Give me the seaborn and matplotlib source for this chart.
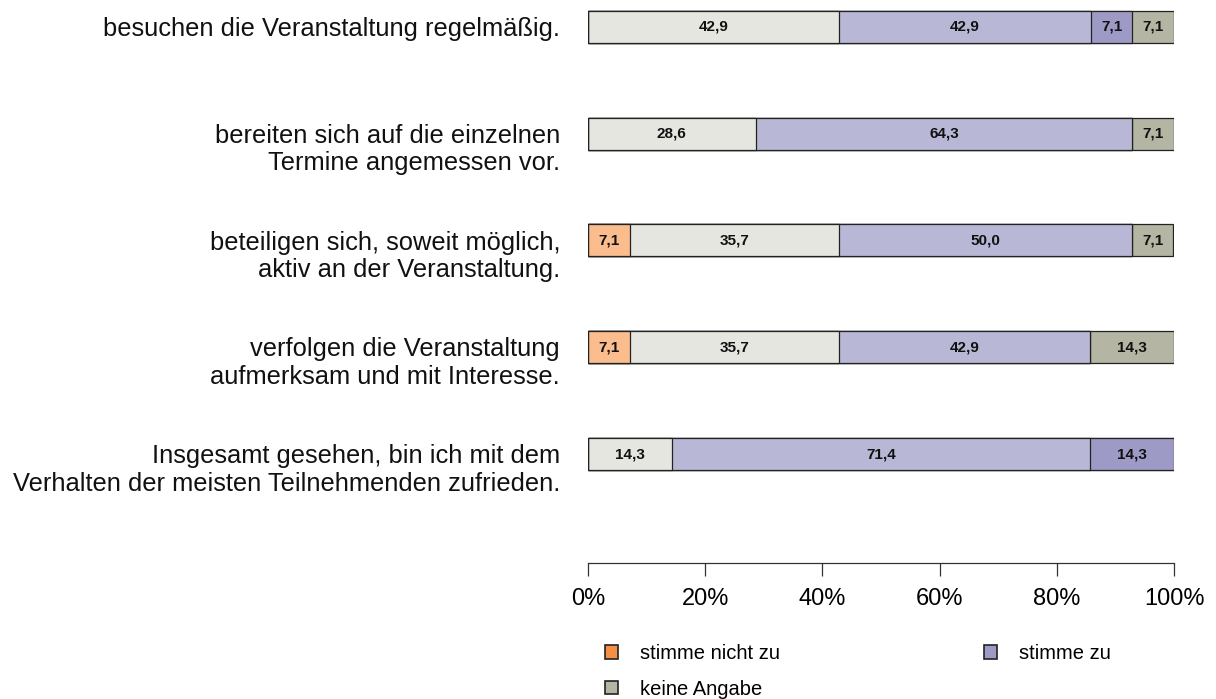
import numpy as np
import pandas as pd
import matplotlib
matplotlib.use("Agg")
import matplotlib.pyplot as plt
from matplotlib.patches import Patch
import seaborn as sns

# Aussagen (Zeilen von oben nach unten)
items = [
    "besuchen die Veranstaltung regelmäßig.",
    "bereiten sich auf die einzelnen\nTermine angemessen vor.",
    "beteiligen sich, soweit möglich,\naktiv an der Veranstaltung.",
    "verfolgen die Veranstaltung\naufmerksam und mit Interesse.",
    "Insgesamt gesehen, bin ich mit dem\nVerhalten der meisten Teilnehmenden zufrieden.",
]

# Antwortkategorien und Farben
categories = ["stimme nicht zu", "stimme eher nicht zu", "teils/teils",
              "stimme eher zu", "stimme zu", "keine Angabe"]
colors = ["#f58f45", "#fbbd8e", "#e6e6e0", "#b8b8d6", "#9e9ac6", "#b5b5a3"]
legend_labels = ["stimme nicht zu", "keine Angabe", "stimme zu"]

# Prozentwerte je Kategorie
nicht_zu = [0.0, 0.0, 0.0, 0.0, 0.0]
eher_nicht_zu = [0.0, 0.0, 7.1, 7.1, 0.0]
teils = [42.9, 28.6, 35.7, 35.7, 14.3]
eher_zu = [42.9, 64.3, 50.0, 42.9, 71.4]
zu = [7.1, 0.0, 0.0, 0.0, 14.3]
keine_angabe = [7.1, 7.1, 7.1, 14.3, 0.0]

values = np.array([nicht_zu, eher_nicht_zu, teils, eher_zu, zu, keine_angabe])
cum = values.cumsum(axis=0)

plt.rcParams["font.family"] = ["Liberation Sans", "DejaVu Sans"]

fig = plt.figure(figsize=(12.16, 6.99), dpi=100)
ax = fig.add_axes([588 / 1216, 136 / 699, 586 / 1216, 563 / 699])

# gestapelte Balken: kumulierte Summen von hinten nach vorne zeichnen
for k in range(len(categories) - 1, -1, -1):
    df = pd.DataFrame({"item": items, "wert": cum[k]})
    sns.barplot(data=df, x="wert", y="item", order=items, orient="h",
                color=colors[k], saturation=1, width=0.3,
                edgecolor="#222222", linewidth=0.9, ax=ax)

# Werte in die Segmente schreiben
for k in range(len(categories)):
    for i in range(len(items)):
        v = values[k, i]
        if v > 0:
            x = cum[k, i] - v / 2
            ax.text(x, i, f"{v:.1f}".replace(".", ","), ha="center", va="center",
                    fontsize=11, fontweight="bold",
                    family=["Liberation Sans Narrow", "Liberation Sans"], color="#111111")

ax.set_xlim(0, 100)
ax.set_ylim(5.02, -0.25)
ax.set_xlabel("")
ax.set_ylabel("")
ax.set_yticks([])
# Beschriftungen links: erste Zeile auf Balkenhoehe, weitere Zeilen haengen darunter
for i, lab in enumerate(items):
    extra = lab.count("\n") * 28 / 107
    ax.text(-28 / 586, i + 9 / 107 + extra, lab, transform=ax.get_yaxis_transform(),
            ha="right", va="baseline", multialignment="right", fontsize=18.4,
            linespacing=1.2, color="#111111")

ax.set_xticks([0, 20, 40, 60, 80, 100])
ax.set_xticklabels(["0%", "20%", "40%", "60%", "80%", "100%"], fontsize=17)
ax.tick_params(axis="x", length=9, width=0.9, color="#333333", pad=9)
for s in ["top", "right", "left"]:
    ax.spines[s].set_visible(False)
ax.spines["bottom"].set_bounds(0, 100)
ax.spines["bottom"].set_linewidth(0.9)
ax.spines["bottom"].set_color("#333333")

handles = [Patch(facecolor=colors[categories.index(l)], edgecolor="#222222", linewidth=1.2)
           for l in legend_labels]
fig.legend(handles, legend_labels, ncol=2, loc="upper left",
           bbox_to_anchor=(605 / 1216, 1 - 644 / 699), frameon=False,
           borderpad=0, borderaxespad=0, fontsize=14.5, handlelength=0.65,
           handleheight=0.65, handletextpad=1.1, labelspacing=0.82, columnspacing=10.1)

fig.savefig("out.png", dpi=100)
